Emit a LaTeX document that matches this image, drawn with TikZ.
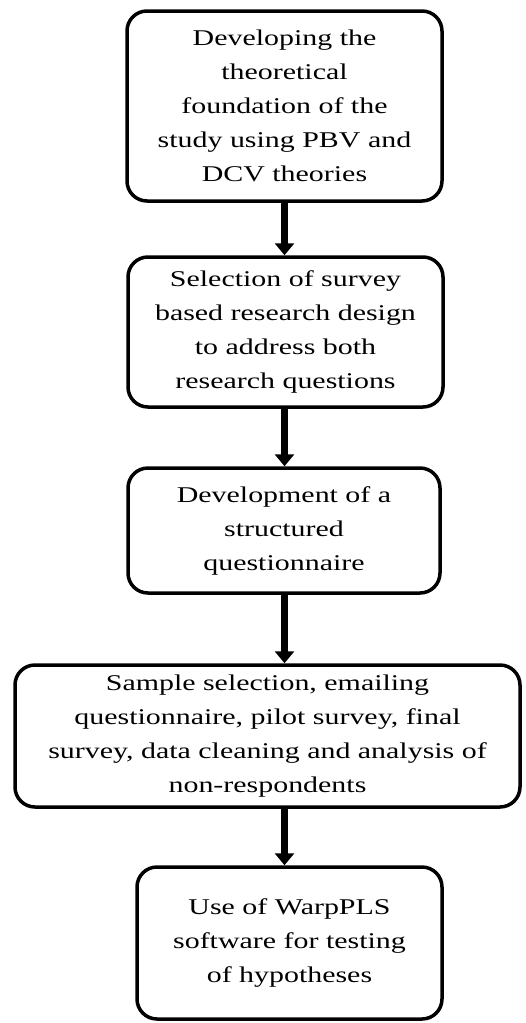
\documentclass[tikz,border=0pt]{standalone}
\usepackage{fontspec}
\setmainfont{Liberation Serif}[FakeStretch=1.33]
\usetikzlibrary{arrows.meta}
\begin{document}
\begin{tikzpicture}[x=1pt,y=-1pt,
  box/.style={draw=black,line width=3.5pt,rounded corners=20pt,align=center,
    inner sep=0pt,font=\fontsize{22.5}{34}\selectfont},
  flow/.style={line width=7pt,-{Triangle[width=19pt,length=12pt]}}]
\useasboundingbox (0,0) rectangle (526,1023);
\node[box,minimum width=315pt,minimum height=190pt] (b1) at (284.5,106)
  {Developing the\\theoretical\\foundation of the\\study using PBV and\\DCV theories};
\node[box,minimum width=315pt,minimum height=150pt] (b2) at (285.5,332)
  {Selection of survey\\based research design\\to address both\\research questions};
\node[box,minimum width=312pt,minimum height=125pt] (b3) at (284,530.5)
  {Development of a\\structured\\questionnaire};
\node[box,minimum width=505pt,minimum height=142pt] (b4) at (267.5,736)
  {Sample selection, emailing\\questionnaire, pilot survey, final\\survey, data cleaning and analysis of\\non-respondents};
\node[box,minimum width=305pt,minimum height=152pt] (b5) at (289.5,943)
  {Use of WarpPLS\\software for testing\\of hypotheses};
\draw[flow] (b1.south) -- (b1.south |- b2.north);
\draw[flow] (b2.south -| b1.south) -- (b1.south |- b3.north);
\draw[flow] (b3.south -| b1.south) -- (b1.south |- b4.north);
\draw[flow] (b4.south -| b1.south) -- (b1.south |- b5.north);
\end{tikzpicture}
\end{document}
